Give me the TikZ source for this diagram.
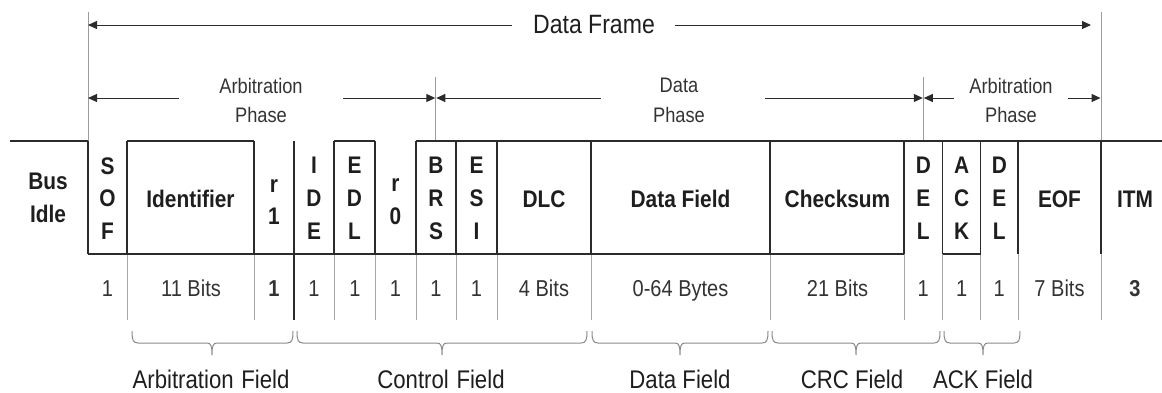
\documentclass[tikz,border=0pt]{standalone}
\usepackage{fontspec}
\setmainfont{Liberation Sans}[FakeStretch=0.87]
\usetikzlibrary{arrows.meta}
\definecolor{ink}{HTML}{2B2B2B}
\definecolor{txt}{HTML}{1E1E1E}
\definecolor{soft}{HTML}{333333}
\definecolor{sepc}{HTML}{A6A6A6}
\definecolor{markc}{HTML}{9C9C9C}
\definecolor{brc}{HTML}{8A8A8A}
\newcommand\mybrace[3]{%
  \draw[bracestyle] (#1,331) .. controls (#1,340) and (#1+1,343) .. (#1+6,343)
    -- (#3-5,343) .. controls (#3-1,343) and (#3,346) .. (#3,355)
    .. controls (#3,346) and (#3+1,343) .. (#3+5,343)
    -- (#2-6,343) .. controls (#2-1,343) and (#2,340) .. (#2,331);}
\tikzset{
  wave/.style={draw=ink, line width=1.3pt},
  sepline/.style={draw=sepc, line width=1pt},
  markline/.style={draw=markc, line width=1pt},
  arr/.style={draw=ink, line width=1pt, -{Triangle[length=9pt,width=8pt]}},
  bracestyle/.style={draw=brc, line width=1pt},
  blabel/.style={font=\fontsize{24}{32.8}\selectfont\bfseries, text=txt, align=center, inner sep=0pt},
  bits/.style={font=\fontsize{23}{28}\selectfont, text=soft, anchor=base, inner sep=0pt},
  bbits/.style={bits, font=\fontsize{23}{28}\selectfont\bfseries},
  phase/.style={font=\fontsize{21}{29.4}\selectfont, text=soft, align=center, inner sep=0pt},
  titlelbl/.style={font=\fontsize{26.5}{30}\selectfont, text=txt, inner sep=0pt},
  fieldlbl/.style={font=\fontsize{25.5}{30}\selectfont, text=txt, anchor=base, inner sep=0pt}
}
\begin{document}
\begin{tikzpicture}[x=1pt, y=-1pt]
\useasboundingbox (0,0) rectangle (1162,392);

% ---------- light separators below the frame ----------
\foreach \xx in {127,254,334,375,416,456,497,591,770,904,942.7,980.7,1018,1101}
  \draw[sepline] (\xx,254) -- (\xx,320);

% ---------- frame boundary markers ----------
\draw[markline] (88,12) -- (88,141);
\draw[markline] (1101,12) -- (1101,141);
\draw[markline] (435.8,77) -- (435.8,141);
\draw[markline] (923.3,77) -- (923.3,141);

% ---------- waveform / field boxes ----------
\draw[wave] (10,141) -- (88,141);
\draw[wave] (127,141) -- (254,141);
\draw[wave] (334,141) -- (375,141);
\draw[wave] (416,141) -- (1162,141);
\draw[wave] (88,254) -- (904,254);
\draw[wave] (942.7,254) -- (980.7,254);
\foreach \xx in {88,127,254,334,375,416,456,497,591,770,904,942.7,980.7,1018,1101}
  \draw[wave] (\xx,141) -- (\xx,254);
\draw[wave] (294,141) -- (294,320);

% ---------- field labels ----------
\node[blabel] (bus) at (48,198) {Bus\\Idle};
\node[blabel] (sof) at (107.5,198.5) {S\\O\\F};
\node[blabel] (ident) at (190.5,199) {Identifier};
\node[blabel] (rone) at (274,202) {r\\1};
\node[blabel] (ide) at (314,198.5) {I\\D\\E};
\node[blabel] (edl) at (354.5,198.5) {E\\D\\L};
\node[blabel] (rzero) at (395.5,202) {r\\0};
\node[blabel] (brs) at (436,198.5) {B\\R\\S};
\node[blabel] (esi) at (476.5,198.5) {E\\S\\I};
\node[blabel] (dlc) at (544,199) {DLC};
\node[blabel] (dfield) at (680.5,199) {Data Field};
\node[blabel] (chk) at (837.5,199) {Checksum};
\node[blabel] (delA) at (923.3,198.5) {D\\E\\L};
\node[blabel] (ack) at (961.7,198.5) {A\\C\\K};
\node[blabel] (delB) at (999.3,198.5) {D\\E\\L};
\node[blabel] (eof) at (1059.5,199) {EOF};
\node[blabel] (itm) at (1135,199) {ITM};

% ---------- bit counts ----------
\node[bits] (nsof) at (107.5,296) {1};
\node[bits] (nid) at (191,296) {11 Bits};
\node[bbits] (nrone) at (274,296) {1};
\node[bits] (nide) at (314,296) {1};
\node[bits] (nedl) at (355,296) {1};
\node[bits] (nrzero) at (395.5,296) {1};
\node[bits] (nbrs) at (436,296) {1};
\node[bits] (nesi) at (476.5,296) {1};
\node[bits] (ndlc) at (544,296) {4 Bits};
\node[bits] (ndata) at (680.5,296) {0-64 Bytes};
\node[bits] (nchk) at (837.5,296) {21 Bits};
\node[bits] (ndelA) at (923.3,296) {1};
\node[bits] (nack) at (961.7,296) {1};
\node[bits] (ndelB) at (999.3,296) {1};
\node[bits] (neof) at (1059.5,296) {7 Bits};
\node[bbits] (nitm) at (1135,296) {3};

% ---------- Data Frame arrow ----------
\node[titlelbl] (df) at (594,25) {Data Frame};
\coordinate (fS) at (88,25);
\coordinate (fE) at (1091,25);
\coordinate (dfL) at (512,25);
\coordinate (dfR) at (675,25);
\draw[arr] (dfL) -- (fS);
\draw[arr] (dfR) -- (fE);

% ---------- phase arrows ----------
\node[phase] (arbA) at (261,100.5) {Arbitration\\Phase};
\node[phase] (dph) at (679,100.5) {Data\\Phase};
\node[phase] (arbB) at (1011,100.5) {Arbitration\\Phase};
\coordinate (pA) at (88,98);
\coordinate (pB1) at (435.3,98);
\coordinate (pB2) at (436.3,98);
\coordinate (pC1) at (922.8,98);
\coordinate (pC2) at (923.8,98);
\coordinate (pD) at (1100.5,98);
\coordinate (aAl) at (179,98);
\coordinate (aAr) at (343,98);
\coordinate (dl) at (601,98);
\coordinate (dr) at (765,98);
\coordinate (aBl) at (954,98);
\coordinate (aBr) at (1068,98);
\draw[arr] (aAl) -- (pA);
\draw[arr] (aAr) -- (pB1);
\draw[arr] (dl) -- (pB2);
\draw[arr] (dr) -- (pC1);
\draw[arr] (aBl) -- (pC2);
\draw[arr] (aBr) -- (pD);

% ---------- field braces ----------
\mybrace{132}{293}{212}
\mybrace{297}{587}{442}
\mybrace{592}{768}{680}
\mybrace{772}{940}{856}
\mybrace{944}{1020}{983}
\node[fieldlbl] (farb) at (211,388) {Arbitration\hspace{0.3em}Field};
\node[fieldlbl] (fctl) at (441,388) {Control\hspace{0.3em}Field};
\node[fieldlbl] (fdat) at (680,388) {Data Field};
\node[fieldlbl] (fcrc) at (852,388) {CRC Field};
\node[fieldlbl] (fack) at (983,388) {ACK Field};
\end{tikzpicture}
\end{document}
